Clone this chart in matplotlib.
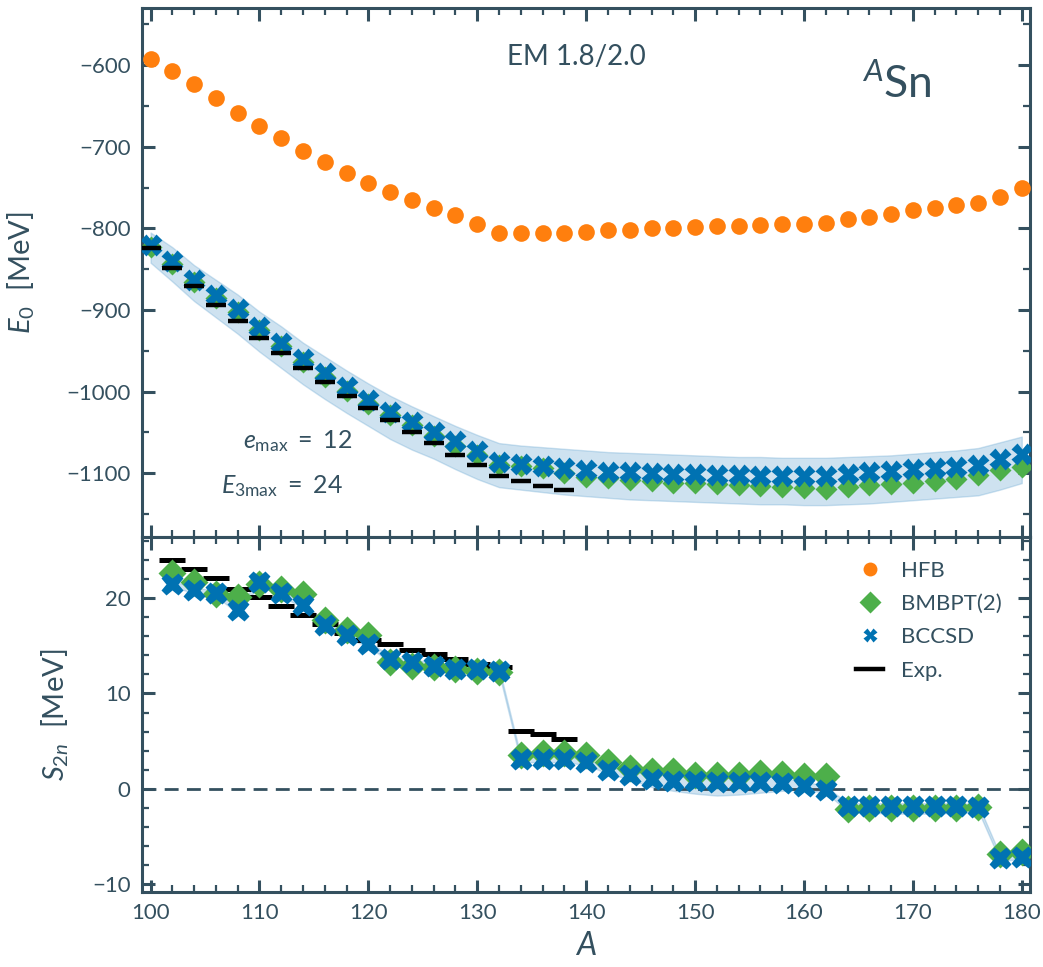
import numpy as np
import matplotlib
matplotlib.use("Agg")
import matplotlib.pyplot as plt
from matplotlib.ticker import MultipleLocator
from matplotlib.lines import Line2D

# ---------------- data ----------------
A_E = list(range(100, 182, 2))

E_HFB = [-592, -607, -623, -640, -658, -674, -689, -705, -719, -732,
         -744, -755, -765, -775, -784, -795, -806, -806, -805, -805,
         -804, -802, -802, -800, -799, -798, -797, -797, -796, -795,
         -794, -793, -789, -786, -782, -778, -775, -771, -769, -761, -751]

E_BMBPT2 = [-823, -844, -866, -885, -903, -924, -944, -964, -982, -999,
            -1015, -1029, -1041, -1054, -1066, -1078, -1090, -1091, -1094, -1100,
            -1104, -1106, -1108, -1110, -1112, -1112, -1113, -1114, -1116, -1117,
            -1118, -1119, -1117, -1114, -1113, -1112, -1109, -1107, -1102, -1096, -1092]

E_BCCSD = [-820, -840, -863, -881, -899, -921, -940, -960, -977, -994,
           -1010, -1025, -1037, -1049, -1061, -1073, -1086, -1088, -1091, -1093,
           -1096, -1098, -1099, -1100, -1101, -1101, -1102, -1102, -1103, -1103,
           -1103, -1103, -1101, -1099, -1097, -1095, -1094, -1092, -1090, -1083, -1076]

E_band_hi = [-805, -823, -845, -863, -881, -902, -920, -940, -957, -974,
             -990, -1005, -1018, -1030, -1042, -1053, -1063, -1066, -1068, -1070,
             -1072, -1074, -1075, -1076, -1077, -1078, -1079, -1080, -1080, -1081,
             -1081, -1081, -1080, -1079, -1078, -1076, -1074, -1072, -1069, -1062, -1055]

E_band_lo = [-842, -865, -889, -909, -929, -951, -971, -991, -1009, -1026,
             -1042, -1058, -1071, -1082, -1095, -1107, -1117, -1120, -1123, -1126,
             -1128, -1130, -1132, -1133, -1134, -1135, -1136, -1137, -1138, -1138,
             -1139, -1139, -1138, -1137, -1135, -1133, -1131, -1129, -1127, -1120, -1112]

A_exp = list(range(100, 140, 2))
E_exp = [-824, -848, -871, -894, -914, -934, -953, -971, -988, -1005,
         -1020, -1035, -1050, -1063, -1077, -1090, -1103, -1109, -1115, -1120]

A_S = list(range(102, 182, 2))
S_BMBPT2 = [22.6, 21.7, 20.4, 20.1, 21.5, 21.0, 20.4, 17.7, 16.6, 16.1,
            13.3, 12.9, 12.8, 12.6, 12.4, 12.3, 3.6, 3.8, 3.8, 3.6,
            2.8, 2.2, 1.9, 1.9, 1.5, 1.5, 1.5, 1.7, 1.6, 1.4,
            1.3, -2.1, -2.0, -2.0, -2.0, -2.0, -2.0, -1.9, -6.8, -6.6]
S_BCCSD = [21.5, 20.8, 20.5, 18.7, 21.7, 20.5, 19.3, 17.2, 16.1, 15.2,
           13.6, 13.3, 12.9, 12.6, 12.6, 12.4, 3.1, 3.1, 3.1, 2.8,
           1.95, 1.5, 1.0, 0.85, 0.85, 0.7, 0.7, 0.7, 0.65, 0.3,
           -0.1, -1.8, -1.8, -1.8, -1.8, -1.8, -1.8, -1.9, -7.2, -7.1]
S_band_hi = [21.8, 21.1, 20.8, 19.0, 22.0, 20.8, 19.6, 17.5, 16.4, 15.5,
             13.9, 13.6, 13.2, 12.9, 12.9, 12.7, 3.4, 3.4, 3.4, 3.1,
             2.3, 1.9, 1.6, 1.6, 1.5, 1.4, 1.4, 1.3, 1.2, 0.8,
             0.3, -1.5, -1.5, -1.5, -1.5, -1.5, -1.5, -1.6, -6.9, -6.8]
S_band_lo = [21.2, 20.5, 20.2, 18.4, 21.4, 20.2, 19.0, 16.9, 15.8, 14.9,
             13.3, 13.0, 12.6, 12.3, 12.3, 12.1, 2.8, 2.8, 2.8, 2.5,
             1.6, 1.0, 0.2, -0.2, -0.5, -0.7, -0.6, -0.4, -0.2, -0.1,
             -0.4, -2.3, -2.5, -2.6, -2.6, -2.6, -2.5, -2.3, -7.5, -7.4]
A_Sexp = list(range(102, 140, 2))
S_exp = [24.0, 23.0, 22.1, 21.0, 20.1, 19.2, 18.2, 17.3, 16.3, 15.6,
         15.2, 14.6, 14.1, 13.6, 13.1, 12.8, 6.1, 5.8, 5.2]

# ---------------- style ----------------
TXT = '#34505f'
C_HFB = '#ff7f0e'
C_BMB = '#4daf4a'
C_BCC = '#0072b2'
C_BAND = '#5fa2d0'

plt.rcParams['font.family'] = ['Lato', 'DejaVu Sans']
plt.rcParams['mathtext.fontset'] = 'custom'
plt.rcParams['mathtext.rm'] = 'Lato'
plt.rcParams['mathtext.it'] = 'Lato:italic'
plt.rcParams['mathtext.bf'] = 'Lato:bold'
plt.rcParams['text.color'] = TXT
plt.rcParams['axes.labelcolor'] = TXT
plt.rcParams['xtick.color'] = TXT
plt.rcParams['ytick.color'] = TXT
plt.rcParams['axes.edgecolor'] = TXT

fig = plt.figure(figsize=(10.43, 9.67), dpi=100)
L, R = 0.136, 0.988
ax1 = fig.add_axes([L, 0.4447, R - L, 0.9917 - 0.4447])
ax2 = fig.add_axes([L, 0.0776, R - L, 0.4447 - 0.0776], sharex=ax1)

for ax in (ax1, ax2):
    for s in ax.spines.values():
        s.set_linewidth(2.2)
    ax.tick_params(which='both', direction='in', top=True, right=True,
                   labelsize=16, pad=8)
    ax.tick_params(which='major', length=9, width=2.2)
    ax.tick_params(which='minor', length=5, width=1.6)
    ax.xaxis.set_major_locator(MultipleLocator(10))
    ax.xaxis.set_minor_locator(MultipleLocator(2))

# top panel
ax1.fill_between(A_E, E_band_lo, E_band_hi, facecolor=C_BAND, alpha=0.3,
                 edgecolor=C_BAND, linewidth=1.0, zorder=1)
ax1.plot(A_E, E_HFB, ls='none', marker='o', ms=12, color=C_HFB, mec='none', zorder=3)
ax1.plot(A_E, E_BMBPT2, ls='none', marker='D', ms=11.5, color=C_BMB, mec='none', zorder=3)
ax1.plot(A_E, E_BCCSD, ls='none', marker='X', ms=15.5, color=C_BCC, mec='none', zorder=4)
ax1.plot(A_exp, E_exp, ls='none', marker='_', ms=15, mew=3.2, color='black', zorder=5)

ax1.set_xlim(99.2, 180.8)
ax1.set_ylim(-1178, -530)
ax1.yaxis.set_major_locator(MultipleLocator(100))
ax1.yaxis.set_minor_locator(MultipleLocator(50))
ax1.tick_params(labelbottom=False)
ax1.set_ylabel(r'$E_0$  [MeV]', fontsize=21)
ax1.yaxis.set_label_coords(-0.118, 0.5)

ax1.text(139.1, -590, 'EM 1.8/2.0', fontsize=20, ha='center', va='center')
ax1.text(168.5, -624, r'$^{A}\mathrm{Sn}$', fontsize=32, ha='center', va='center')
ax1.text(113.5, -1061, r'$e_{\mathrm{max}}\ =\ 12$', fontsize=18, ha='center', va='center')
ax1.text(112.1, -1116, r'$E_{3\mathrm{max}}\ =\ 24$', fontsize=18, ha='center', va='center')

# bottom panel
ax2.fill_between(A_S, S_band_lo, S_band_hi, facecolor=C_BAND, alpha=0.3,
                 edgecolor=C_BAND, linewidth=1.0, zorder=1)
ax2.axhline(0, color=TXT, ls=(0, (5, 3)), lw=2.0, zorder=2)
ax2.plot(A_S, S_BMBPT2, ls='none', marker='D', ms=14, color=C_BMB, mec='none', zorder=3)
ax2.plot(A_S, S_BCCSD, ls='none', marker='X', ms=16, color=C_BCC, mec='none', zorder=4)
ax2.plot(A_Sexp, S_exp, ls='none', marker='_', ms=19, mew=3.6, color='black', zorder=2.5)

ax2.set_ylim(-10.8, 26.4)
ax2.yaxis.set_major_locator(MultipleLocator(10))
ax2.yaxis.set_minor_locator(MultipleLocator(2))
ax2.set_ylabel(r'$S_{2n}$  [MeV]', fontsize=21)
ax2.yaxis.set_label_coords(-0.08, 0.5)
ax2.set_xlabel(r'$A$', fontsize=23, labelpad=6)

leg_handles = [
    Line2D([], [], ls='none', marker='o', ms=10, color=C_HFB, mec='none'),
    Line2D([], [], ls='none', marker='D', ms=11, color=C_BMB, mec='none'),
    Line2D([], [], ls='none', marker='X', ms=10, color=C_BCC, mec='none'),
    Line2D([], [], ls='-', lw=3.2, color='black'),
]
ax2.legend(leg_handles, ['HFB', 'BMBPT(2)', 'BCCSD', 'Exp.'], loc='upper right',
           frameon=False, fontsize=16, handlelength=1.2, labelspacing=0.6,
           bbox_to_anchor=(0.99, 0.99))

fig.savefig('out.png', dpi=100)
